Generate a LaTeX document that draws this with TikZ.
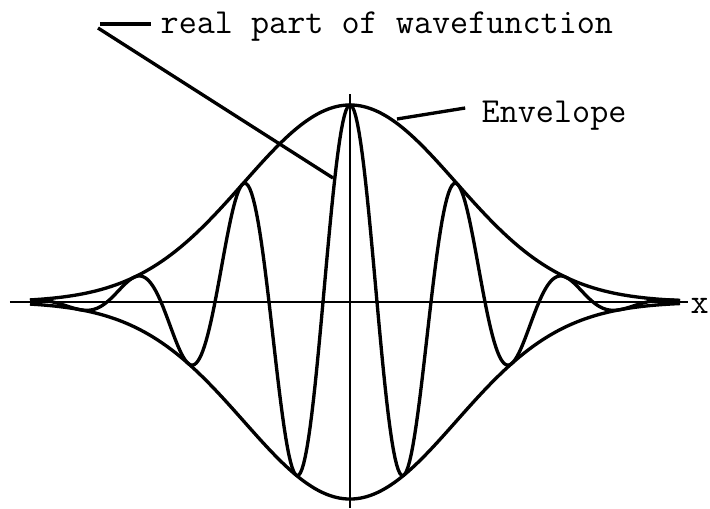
\documentclass[tikz,border=0pt]{standalone}
\usetikzlibrary{positioning}

\begin{document}
\begin{tikzpicture}[x=0.02cm, y=0.02cm, thick, curve/.style = {line width=1.9pt, line join=round}, axis/.style = {line width=1.2pt}, lbl/.style = {font=\ttfamily\fontsize{20}{24}\selectfont, inner sep=0pt, anchor=base west}]
            \useasboundingbox (-350,-206) rectangle (360,302);
            % axes
            \coordinate (xl) at (-340,0);
            \coordinate (xr) at (338,0);
            \coordinate (yb) at (0,-206);
            \coordinate (yt) at (0,208);
            \draw[axis] (xl) -- (xr);
            \draw[axis] (yb) -- (yt);
            \node[lbl] (xlab) at (340,-11) {x};
            % envelope and wave
            \draw[curve, domain=-320:330, samples=200] plot (\x, {197*exp(-0.5*(\x/106)^2)});
            \draw[curve, domain=-320:330, samples=200] plot (\x, {-197*exp(-0.5*(\x/106)^2)});
            \draw[curve, domain=-320:330, samples=400] plot (\x, {197*exp(-0.5*(\x/106)^2)*cos(\x/54*180)});
            % labels
            \node[lbl] (real) at (-190,269) {real part of wavefunction};
            \coordinate (r1) at (-250,278);
            \coordinate (r2) at (-252,274);
            \coordinate (r3) at (-17,124);
            \draw[curve] (r1) -- ([xshift=-5] real.west |- r1);
            \draw[curve] (r2) -- (r3);
            \node[lbl] (env) at (131,180) {Envelope};
            \coordinate (e1) at (47,183);
            \draw[curve] (e1) -- ([xshift=-9] env.west |- 0,194);
        \end{tikzpicture}
\end{document}
